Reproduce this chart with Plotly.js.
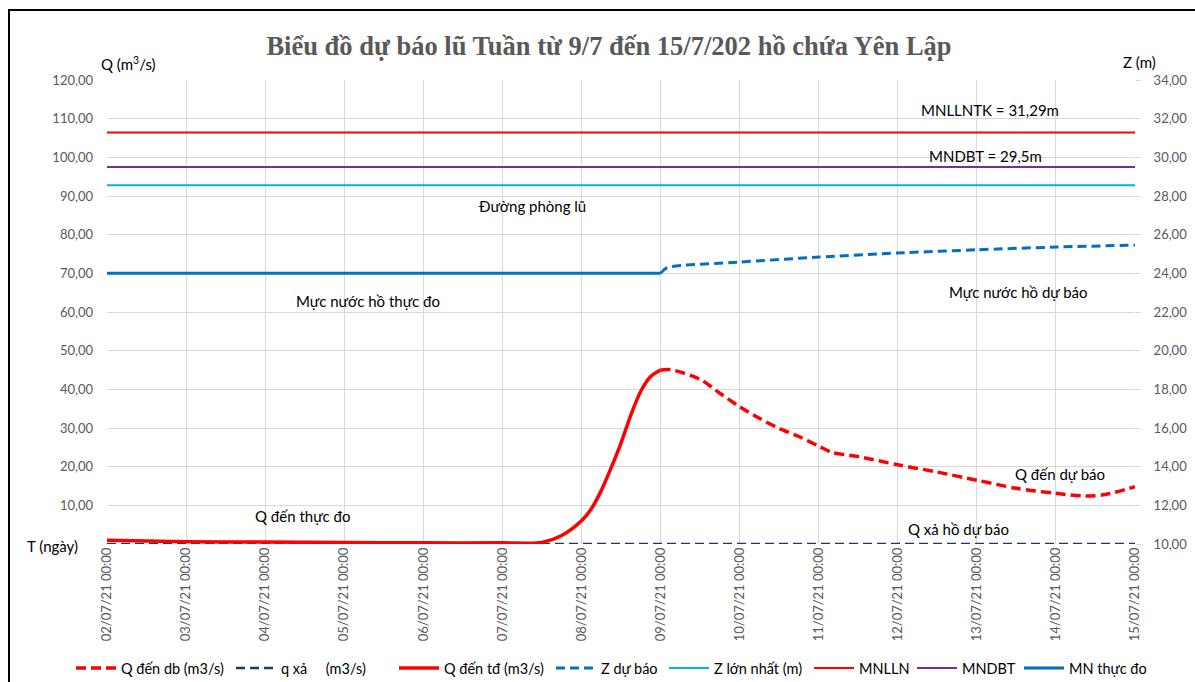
<!DOCTYPE html>
<html>
<head>
<meta charset="utf-8">
<script src="https://cdn.plot.ly/plotly-3.0.1.min.js"></script>
<style>
html,body{margin:0;padding:0;background:#fff;}
#chart{width:1195px;height:682px;}
</style>
</head>
<body>
<div id="chart"></div>
<script>
// ---------------- DATA ----------------
const titleText = 'Biểu đồ dự báo lũ Tuần từ 9/7 đến 15/7/202 hồ chứa Yên Lập';

// Q đến thực đo (m3/s)
const qTdTime = ['2021-07-02 00:00','2021-07-03 00:00','2021-07-04 00:00','2021-07-05 00:00','2021-07-06 00:00','2021-07-07 00:00','2021-07-07 12:00','2021-07-07 18:00','2021-07-08 00:00','2021-07-08 03:00','2021-07-08 06:00','2021-07-08 09:00','2021-07-08 12:00','2021-07-08 15:00','2021-07-08 18:00','2021-07-08 21:00','2021-07-09 00:00'];
const qTd = [1.0, 0.6, 0.5, 0.4, 0.3, 0.3, 0.4, 2.2, 6.0, 9.1, 13.8, 19.7, 26.1, 33.4, 39.5, 43.3, 45.0];

// Q đến dự báo (m3/s)
const qDbTime = ['2021-07-09 00:00','2021-07-09 03:00','2021-07-09 12:00','2021-07-09 18:00','2021-07-10 00:00','2021-07-10 06:00','2021-07-10 12:00','2021-07-10 18:00','2021-07-11 00:00','2021-07-11 04:00','2021-07-11 12:00','2021-07-12 00:00','2021-07-12 12:00','2021-07-13 00:00','2021-07-13 12:00','2021-07-14 00:00','2021-07-14 09:00','2021-07-14 15:00','2021-07-15 00:00'];
const qDb = [45.0, 45.1, 42.6, 39.0, 35.5, 32.5, 29.9, 27.8, 25.3, 23.7, 22.6, 20.5, 18.6, 16.5, 14.4, 13.1, 12.4, 12.8, 14.8];

// q xả (m3/s)
const qXaTime = ['2021-07-02','2021-07-03','2021-07-04','2021-07-05','2021-07-06','2021-07-07','2021-07-08','2021-07-09','2021-07-10','2021-07-11','2021-07-12','2021-07-13','2021-07-14','2021-07-15'];
const qXa = [0,0,0,0,0,0,0,0,0,0,0,0,0,0];

// Mực nước hồ thực đo (m)
const zTdTime = ['2021-07-02','2021-07-03','2021-07-04','2021-07-05','2021-07-06','2021-07-07','2021-07-08','2021-07-09'];
const zTd = [24.0,24.0,24.0,24.0,24.0,24.0,24.0,24.0];

// Z dự báo (m)
const zDbTime = ['2021-07-09 00:00','2021-07-09 02:00','2021-07-10 00:00','2021-07-11 00:00','2021-07-12 00:00','2021-07-13 00:00','2021-07-14 00:00','2021-07-15 00:00'];
const zDb = [24.0, 24.3, 24.58, 24.84, 25.05, 25.22, 25.36, 25.46];

// Reference levels (m)
const refTime = ['2021-07-02','2021-07-15'];
const zMax = [28.56, 28.56];     // Z lớn nhất
const mnlln = [31.29, 31.29];    // MNLLN
const mndbt = [29.5, 29.5];      // MNDBT

// Axis ticks
const qTickVals = [0,10,20,30,40,50,60,70,80,90,100,110,120];
const qTickText = ['','10,00','20,00','30,00','40,00','50,00','60,00','70,00','80,00','90,00','100,00','110,00','120,00'];
const zTickVals = [10,12,14,16,18,20,22,24,26,28,30,32,34];
const zTickText = ['10,00','12,00','14,00','16,00','18,00','20,00','22,00','24,00','26,00','28,00','30,00','32,00','34,00'];

// ---------------- LAYOUT HELPERS ----------------
const W = 1195, H = 682;
const L = 107, R = 1135, T = 80, B = 544;
const px = x => (x - L) / (R - L);
const py = y => (B - y) / (B - T);
const FONT = 'Lato, "Open Sans", sans-serif';

const traces = [
  {name:'Q đến db (m3/s)', x:qDbTime, y:qDb, type:'scatter', mode:'lines', yaxis:'y', legend:'legend',
   line:{color:'#FF0000', width:3.5, dash:'10px,5px', shape:'spline', smoothing:0.8}},
  {name:'q xả\u00a0\u00a0\u00a0\u00a0\u00a0(m3/s)', x:qXaTime, y:qXa, type:'scatter', mode:'lines', yaxis:'y', legend:'legend2',
   line:{color:'#1F3864', width:2.5, dash:'9px,5px'}},
  {name:'Q đến tđ (m3/s)', x:qTdTime, y:qTd, type:'scatter', mode:'lines', yaxis:'y', legend:'legend3',
   line:{color:'#FF0000', width:3.5, shape:'spline', smoothing:0.8}},
  {name:'Z dự báo', x:zDbTime, y:zDb, type:'scatter', mode:'lines', yaxis:'y2', legend:'legend4',
   line:{color:'#0070C0', width:3, dash:'9px,5px', shape:'spline', smoothing:0.6}},
  {name:'Z lớn nhất (m)', x:refTime, y:zMax, type:'scatter', mode:'lines', yaxis:'y2', legend:'legend5',
   line:{color:'#00B0F0', width:2}},
  {name:'MNLLN', x:refTime, y:mnlln, type:'scatter', mode:'lines', yaxis:'y2', legend:'legend6',
   line:{color:'#FF0000', width:2}},
  {name:'MNDBT', x:refTime, y:mndbt, type:'scatter', mode:'lines', yaxis:'y2', legend:'legend7',
   line:{color:'#7030A0', width:2}},
  {name:'MN thực đo', x:zTdTime, y:zTd, type:'scatter', mode:'lines', yaxis:'y2', legend:'legend8',
   line:{color:'#0070C0', width:3}}
];

// label: text, text centre (cx,cy), white box [x0,x1,y0,y1] in pixels
const labels = [
  ['MNLLNTK = 31,29m', 990, 110, [913,1080,97,122]],
  ['MNDBT = 29,5m', 985, 156, [917,1065,143,165]],
  ['Đường phòng lũ', 532, 206, [473,633,189,216]],
  ['Mực nước hồ thực đo', 368, 301, [278,452,283,320]],
  ['Mực nước hồ dự báo', 1018, 292, [936,1100,280,305]],
  ['Q đến thực đo', 302, 516, [243,362,503,528]],
  ['Q đến dự báo', 1060, 474, [1004,1116,462,487]],
  ['Q xả hồ dự báo', 958, 529, [896,1022,518,541]]
];

const annotations = [
  {text:'Q (m<sup>3</sup>/s)', xref:'paper', yref:'paper', x:px(99), y:py(64), xanchor:'left', yanchor:'middle',
   showarrow:false, font:{family:FONT, size:15, color:'#000'}},
  {text:'Z (m)', xref:'paper', yref:'paper', x:px(1139), y:py(62), xanchor:'center', yanchor:'middle',
   showarrow:false, font:{family:FONT, size:15, color:'#000'}},
  {text:'T (ngày)', xref:'paper', yref:'paper', x:px(25), y:py(546), xanchor:'left', yanchor:'middle',
   showarrow:false, font:{family:FONT, size:15, color:'#000'}}
];
const shapes = [
  {type:'rect', xref:'paper', yref:'paper', x0:px(9), x1:px(1210), y0:py(700), y1:py(10),
   line:{color:'#000', width:2}, fillcolor:'rgba(0,0,0,0)', layer:'above'}
];
labels.forEach(([t, cx, cy, b]) => {
  annotations.push({text:t, xref:'paper', yref:'paper', x:px(cx), y:py(cy), xanchor:'center', yanchor:'middle',
    showarrow:false, font:{family:FONT, size:15, color:'#000'}});
  shapes.push({type:'rect', xref:'paper', yref:'paper', x0:px(b[0]), x1:px(b[1]), y0:py(b[3]), y1:py(b[2]),
    line:{width:0}, fillcolor:'#FFFFFF', layer:'between'});
});

const layout = {
  width:W, height:H,
  margin:{l:L, r:W-R, t:T, b:H-B},
  paper_bgcolor:'#fff', plot_bgcolor:'#fff',
  showlegend:true,
  title:{text:'<b>'+titleText+'</b>', font:{family:'"Liberation Serif", "Times New Roman", serif', size:26.5, color:'#595959'},
         xref:'container', yref:'container', x:609/W, y:1-46/H, xanchor:'center', yanchor:'middle'},
  xaxis:{type:'date', range:['2021-07-02','2021-07-15'], dtick:86400000, tick0:'2021-07-02',
         tickformat:'%d/%m/%y %H:%M', tickangle:-90, showgrid:true, gridcolor:'#D9D9D9', gridwidth:1,
         zeroline:false, showline:false, ticks:'', tickfont:{family:FONT, size:13, color:'#595959'}},
  yaxis:{range:[0,120], tickvals:qTickVals, ticktext:qTickText, showgrid:true, gridcolor:'#D9D9D9',
         zeroline:false, showline:false, ticks:'', ticklabelstandoff:13,
         tickfont:{family:FONT, size:13, color:'#595959'}},
  yaxis2:{range:[10,34], tickvals:zTickVals, ticktext:zTickText, overlaying:'y', side:'right',
         showgrid:false, zeroline:false, showline:false, ticks:'outside', ticklen:5, tickcolor:'#D9D9D9',
         ticklabelstandoff:10, tickfont:{family:FONT, size:13, color:'#595959'}},
  annotations:annotations,
  shapes:shapes
};

// one legend per entry, placed at the reference's entry positions (line start, px)
const legendStarts = [77, 237, 400, 557, 670, 815, 918, 1025];
legendStarts.forEach((s, i) => {
  const key = i === 0 ? 'legend' : 'legend' + (i + 1);
  layout[key] = {orientation:'h', xref:'container', yref:'container', x:(s - 6)/W, y:1-668/H,
    xanchor:'left', yanchor:'middle', font:{family:FONT, size:14.5, color:'#000'},
    itemwidth:40, itemgap:0, bgcolor:'rgba(0,0,0,0)'};
});

Plotly.newPlot('chart', traces, layout, {displayModeBar:false, staticPlot:true});
</script>
</body>
</html>
